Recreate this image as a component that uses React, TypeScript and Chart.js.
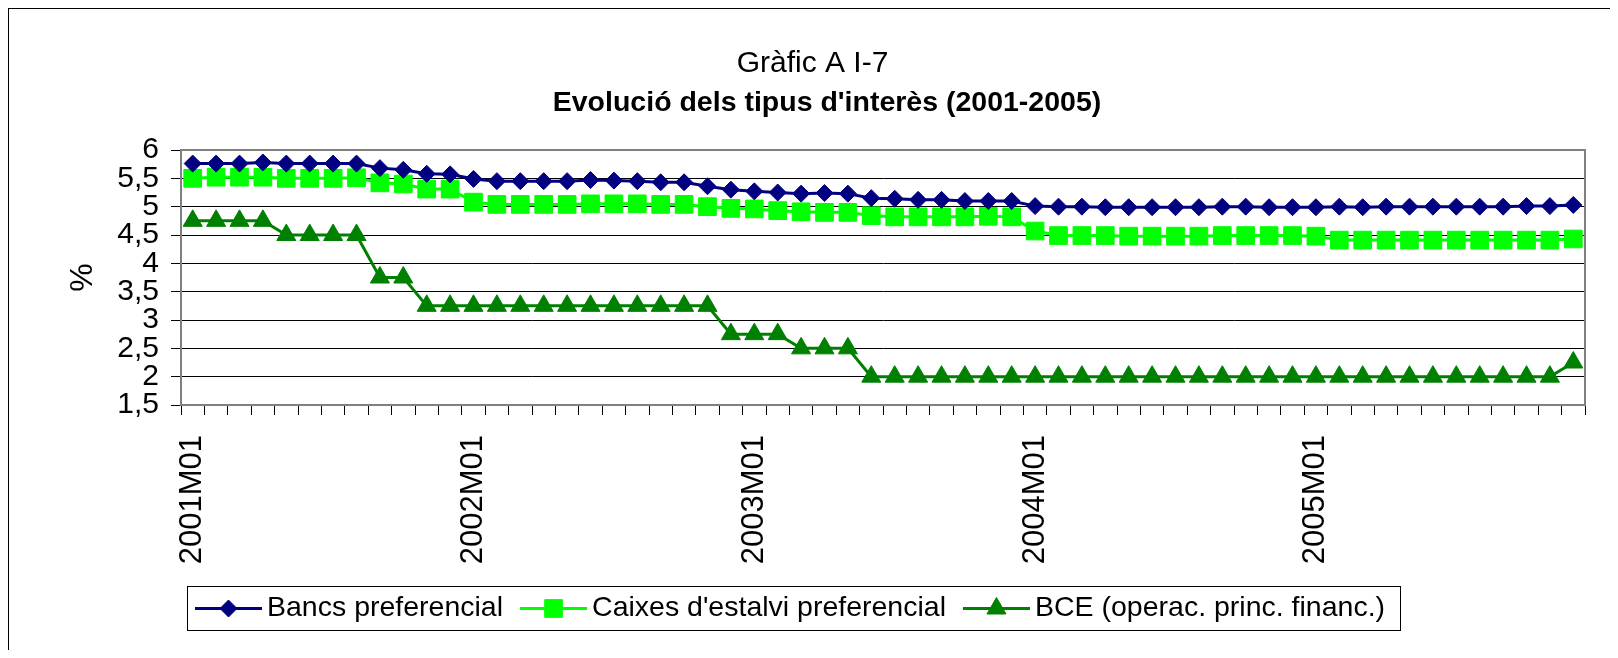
import React, { useEffect, useRef } from "react";
import { Chart, registerables } from "chart.js";

Chart.register(...registerables);

const FONT = "Arial, 'Liberation Sans', Helvetica, sans-serif";

const months = [
  "2001M01", "2001M02", "2001M03", "2001M04", "2001M05", "2001M06", "2001M07", "2001M08", "2001M09", "2001M10", "2001M11", "2001M12",
  "2002M01", "2002M02", "2002M03", "2002M04", "2002M05", "2002M06", "2002M07", "2002M08", "2002M09", "2002M10", "2002M11", "2002M12",
  "2003M01", "2003M02", "2003M03", "2003M04", "2003M05", "2003M06", "2003M07", "2003M08", "2003M09", "2003M10", "2003M11", "2003M12",
  "2004M01", "2004M02", "2004M03", "2004M04", "2004M05", "2004M06", "2004M07", "2004M08", "2004M09", "2004M10", "2004M11", "2004M12",
  "2005M01", "2005M02", "2005M03", "2005M04", "2005M05", "2005M06", "2005M07", "2005M08", "2005M09", "2005M10", "2005M11", "2005M12",
];

const bancs = [
  5.76, 5.76, 5.76, 5.78, 5.76, 5.76, 5.76, 5.76, 5.68, 5.65, 5.58, 5.57,
  5.49, 5.45, 5.45, 5.45, 5.45, 5.47, 5.46, 5.45, 5.43, 5.43, 5.36, 5.30,
  5.27, 5.25, 5.23, 5.24, 5.23, 5.15, 5.14, 5.12, 5.12, 5.10, 5.10, 5.10,
  5.01, 5.00, 5.00, 4.99, 4.99, 4.99, 4.99, 4.99, 5.00, 5.00, 4.99, 4.99,
  4.99, 5.00, 4.99, 5.00, 5.00, 5.00, 5.00, 5.00, 5.00, 5.01, 5.01, 5.03,
];

const caixes = [
  5.50, 5.52, 5.52, 5.52, 5.50, 5.50, 5.50, 5.51, 5.42, 5.40, 5.31, 5.31,
  5.08, 5.04, 5.04, 5.04, 5.04, 5.05, 5.05, 5.05, 5.04, 5.04, 5.00, 4.97,
  4.96, 4.93, 4.91, 4.90, 4.90, 4.84, 4.82, 4.82, 4.82, 4.82, 4.83, 4.82,
  4.57, 4.49, 4.49, 4.49, 4.48, 4.48, 4.48, 4.48, 4.49, 4.49, 4.49, 4.49,
  4.48, 4.41, 4.41, 4.41, 4.41, 4.41, 4.41, 4.41, 4.41, 4.41, 4.41, 4.43,
];

const bce = [
  4.75, 4.75, 4.75, 4.75, 4.5, 4.5, 4.5, 4.5, 3.75, 3.75, 3.25, 3.25,
  3.25, 3.25, 3.25, 3.25, 3.25, 3.25, 3.25, 3.25, 3.25, 3.25, 3.25, 2.75,
  2.75, 2.75, 2.5, 2.5, 2.5, 2, 2, 2, 2, 2, 2, 2,
  2, 2, 2, 2, 2, 2, 2, 2, 2, 2, 2, 2,
  2, 2, 2, 2, 2, 2, 2, 2, 2, 2, 2, 2.25,
];

const seriesNames = ["Bancs preferencial", "Caixes d'estalvi preferencial", "BCE (operac. princ. financ.)"];
const seriesValues = [bancs, caixes, bce];
const seriesColors = ["#000080", "#00FF00", "#008000"];
const seriesMarkers = ["rectRot", "rect", "triangle"];
const markerRadius = [8.5, 12.5, 11];

const titleText = "Gràfic A I-7";
const subtitleText = "Evolució dels tipus d'interès (2001-2005)";
const yAxisTitle = "%";
const yMin = 1.5;
const yMax = 6;
const yStep = 0.5;

function drawMarker(ctx: CanvasRenderingContext2D, style: string, x: number, y: number, r: number, color: string) {
  ctx.save();
  ctx.fillStyle = color;
  ctx.strokeStyle = color;
  ctx.lineWidth = 1;
  ctx.beginPath();
  if (style === "rectRot") {
    ctx.moveTo(x - r, y);
    ctx.lineTo(x, y - r);
    ctx.lineTo(x + r, y);
    ctx.lineTo(x, y + r);
  } else if (style === "rect") {
    const s = r * Math.SQRT1_2;
    ctx.rect(x - s, y - s, 2 * s, 2 * s);
  } else {
    const w = r * Math.sin((2 * Math.PI) / 3);
    ctx.moveTo(x, y - r);
    ctx.lineTo(x + w, y + r / 2);
    ctx.lineTo(x - w, y + r / 2);
  }
  ctx.closePath();
  ctx.fill();
  ctx.stroke();
  ctx.restore();
}

const plotBorder = {
  id: "plotBorder",
  beforeDatasetsDraw(chart: any) {
    const { ctx, chartArea: a } = chart;
    ctx.save();
    ctx.strokeStyle = "#808080";
    ctx.lineWidth = 2;
    ctx.strokeRect(a.left, a.top, a.right - a.left, a.bottom - a.top);
    ctx.restore();
  },
};

const boldSubtitle = {
  id: "boldSubtitle",
  afterDraw(chart: any) {
    const ctx: CanvasRenderingContext2D = chart.ctx;
    ctx.save();
    ctx.font = `bold 28.5px ${FONT}`;
    ctx.fillStyle = "#000";
    ctx.textAlign = "center";
    ctx.textBaseline = "middle";
    ctx.fillText(subtitleText, 818, 94);
    ctx.restore();
  },
};

const excelLegend = {
  id: "excelLegend",
  afterDraw(chart: any) {
    const ctx: CanvasRenderingContext2D = chart.ctx;
    ctx.save();
    ctx.font = `28.5px ${FONT}`;
    const lineLen = 67, gap = 5, itemGap = 17, padL = 8, padR = 15;
    const widths = seriesNames.map((n) => ctx.measureText(n).width);
    const total = padL + padR + widths.reduce((s, w) => s + lineLen + gap + w, 0) + itemGap * (seriesNames.length - 1);
    const cx = 785, top = 577, h = 44;
    const left = Math.round(cx - total / 2);
    ctx.strokeStyle = "#000";
    ctx.lineWidth = 1;
    ctx.strokeRect(left + 0.5, top + 0.5, Math.round(total), h);
    let x = left + padL;
    const y = top + h / 2 + 0.5;
    seriesNames.forEach((name, i) => {
      ctx.strokeStyle = seriesColors[i];
      ctx.lineWidth = 3;
      ctx.beginPath();
      ctx.moveTo(x, y);
      ctx.lineTo(x + lineLen, y);
      ctx.stroke();
      drawMarker(ctx, seriesMarkers[i], x + lineLen / 2, y, markerRadius[i], seriesColors[i]);
      ctx.fillStyle = "#000";
      ctx.textBaseline = "middle";
      ctx.textAlign = "left";
      ctx.fillText(name, x + lineLen + gap, y);
      x += lineLen + gap + widths[i] + itemGap;
    });
    ctx.restore();
  },
};

export default function App() {
  const canvasRef = useRef<HTMLCanvasElement | null>(null);

  useEffect(() => {
    const canvas = canvasRef.current;
    if (!canvas) return;
    const chart = new Chart(canvas, {
      type: "line",
      data: {
        labels: months,
        datasets: seriesNames.map((name, i) => ({
          label: name,
          data: seriesValues[i],
          borderColor: seriesColors[i],
          backgroundColor: seriesColors[i],
          borderWidth: 3,
          tension: 0,
          fill: false,
          pointStyle: seriesMarkers[i] as any,
          pointRadius: markerRadius[i],
          pointHoverRadius: markerRadius[i],
          pointBorderWidth: 1,
          pointBackgroundColor: seriesColors[i],
          pointBorderColor: seriesColors[i],
        })),
      },
      options: {
        responsive: false,
        animation: false,
        events: [],
        layout: { padding: { left: 31, right: 25, top: 0, bottom: 87 } },
        plugins: {
          legend: { display: false },
          tooltip: { enabled: false },
          title: {
            display: true,
            text: titleText,
            color: "#000",
            font: { family: FONT, size: 30, weight: "normal", lineHeight: 1 },
            padding: { top: 40, bottom: 71 },
          },
        },
        scales: {
          x: {
            type: "category",
            offset: true,
            grid: {
              offset: true,
              drawOnChartArea: false,
              drawTicks: true,
              tickLength: 10,
              color: "#000",
              lineWidth: 1,
            },
            border: { color: "#808080", width: 2 },
            ticks: {
              autoSkip: false,
              minRotation: 90,
              maxRotation: 90,
              padding: 20,
              color: "#000",
              font: { family: FONT, size: 31 },
              callback: (_v: any, i: number) => (months[i].endsWith("M01") ? months[i] : ""),
            },
            afterFit: (s: any) => {
              s.height = 158;
              s.paddingLeft = 0;
              s.paddingRight = 0;
            },
          },
          y: {
            min: yMin,
            max: yMax,
            grid: { color: "#000", lineWidth: 1, drawTicks: true, tickLength: 10 },
            border: { color: "#808080", width: 2 },
            ticks: {
              stepSize: yStep,
              autoSkip: false,
              padding: 12,
              color: "#000",
              font: { family: FONT, size: 30 },
              callback: (v: any) => String(v).replace(".", ","),
            },
            title: {
              display: true,
              text: yAxisTitle,
              color: "#000",
              font: { family: FONT, size: 32, lineHeight: 1 },
              padding: { top: 27, bottom: 0 },
            },
            afterFit: (s: any) => {
              s.width = 141;
              s.paddingTop = 0;
              s.paddingBottom = 0;
            },
          },
        },
      },
      plugins: [plotBorder, boldSubtitle, excelLegend],
    });
    return () => chart.destroy();
  }, []);

  return (
    <div
      style={{
        width: 1602,
        height: 642,
        boxSizing: "border-box",
        borderLeft: "1px solid #000",
        borderTop: "1px solid #000",
        overflow: "hidden",
        background: "#fff",
      }}
    >
      <canvas ref={canvasRef} width={1601} height={641} style={{ display: "block" }} />
    </div>
  );
}
